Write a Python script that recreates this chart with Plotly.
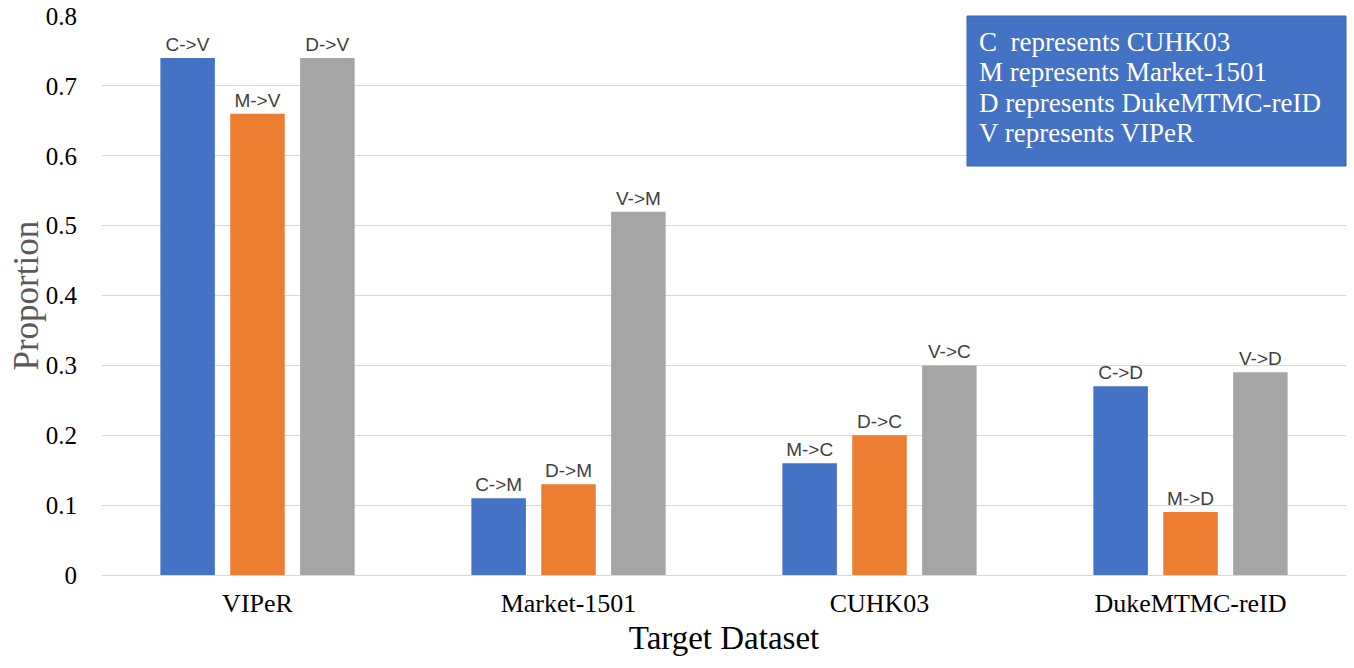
import plotly.graph_objects as go

# Target datasets on the x axis
categories = ["VIPeR", "Market-1501", "CUHK03", "DukeMTMC-reID"]

# Proportions for the three source datasets per target (left, middle, right bar)
series1_values = [0.74, 0.11, 0.16, 0.27]
series2_values = [0.66, 0.13, 0.20, 0.09]
series3_values = [0.74, 0.52, 0.30, 0.29]

# Transfer-direction labels drawn above each bar
series1_labels = ["C->V", "C->M", "M->C", "C->D"]
series2_labels = ["M->V", "D->M", "D->C", "M->D"]
series3_labels = ["D->V", "V->M", "V->C", "V->D"]

# Key explaining the dataset abbreviations
key_lines = [
    "C  represents CUHK03",
    "M represents Market-1501",
    "D represents DukeMTMC-reID",
    "V represents VIPeR",
]

y_ticks = [0, 0.1, 0.2, 0.3, 0.4, 0.5, 0.6, 0.7, 0.8]
y_tick_text = ["0", "0.1", "0.2", "0.3", "0.4", "0.5", "0.6", "0.7", "0.8"]

colors = ["#4472C4", "#ED7D31", "#A5A5A5"]

W, H = 1354, 668
M_L, M_R, M_T, M_B = 102, 8, 16, 93
plot_w = W - M_L - M_R
plot_h = H - M_T - M_B


def px_x(x):
    return (x - M_L) / plot_w


def px_y(y):
    return (H - M_B - y) / plot_h


label_font = dict(family="Liberation Sans, Arial, sans-serif", size=19, color="#404040")
serif = "Liberation Serif, Times New Roman, serif"

fig = go.Figure()
for vals, labels, col in zip(
    [series1_values, series2_values, series3_values],
    [series1_labels, series2_labels, series3_labels],
    colors,
):
    fig.add_trace(
        go.Bar(
            x=categories,
            y=vals,
            text=labels,
            textposition="outside",
            textfont=label_font,
            constraintext="none",
            marker=dict(color=col, line=dict(width=0)),
            cliponaxis=False,
            showlegend=False,
            hoverinfo="skip",
        )
    )

# Blue key box in the upper-right corner
fig.add_shape(
    type="rect",
    xref="paper", yref="paper",
    x0=px_x(967), x1=px_x(1346),
    y0=px_y(166), y1=px_y(16),
    fillcolor="#4472C4",
    line=dict(color="#3A64B0", width=1),
    layer="above",
)
for i, line in enumerate(key_lines):
    fig.add_annotation(
        xref="paper", yref="paper",
        x=px_x(977), y=px_y(42 + i * 30.3),
        xanchor="left", yanchor="middle",
        text=line,
        showarrow=False,
        align="left",
        font=dict(family=serif, size=27, color="white"),
    )

# Vertical axis title
fig.add_annotation(
    xref="paper", yref="paper",
    x=px_x(26), y=0.5,
    xanchor="center", yanchor="middle",
    text="Proportion",
    textangle=-90,
    showarrow=False,
    font=dict(family=serif, size=35, color="#595959"),
)

fig.update_layout(
    width=W,
    height=H,
    margin=dict(l=M_L, r=M_R, t=M_T, b=M_B),
    paper_bgcolor="white",
    plot_bgcolor="white",
    barmode="group",
    bargap=0.326,
    bargroupgap=0.22,
    xaxis=dict(
        automargin=False,
        tickfont=dict(family=serif, size=26, color="#000000"),
        showgrid=False,
        showline=False,
        ticks="",
        ticklabelstandoff=10,
        title=dict(text="Target Dataset", font=dict(family=serif, size=33, color="#000000"), standoff=8),
    ),
    yaxis=dict(
        automargin=False,
        range=[0, 0.8],
        tickvals=y_ticks,
        ticktext=y_tick_text,
        tickfont=dict(family=serif, size=25, color="#000000"),
        showgrid=True,
        gridcolor="#D9D9D9",
        gridwidth=1,
        zeroline=True,
        zerolinecolor="#D9D9D9",
        zerolinewidth=1,
        showline=False,
        ticks="",
        ticklabelstandoff=24,
    ),
)

fig.write_html("out.html")
